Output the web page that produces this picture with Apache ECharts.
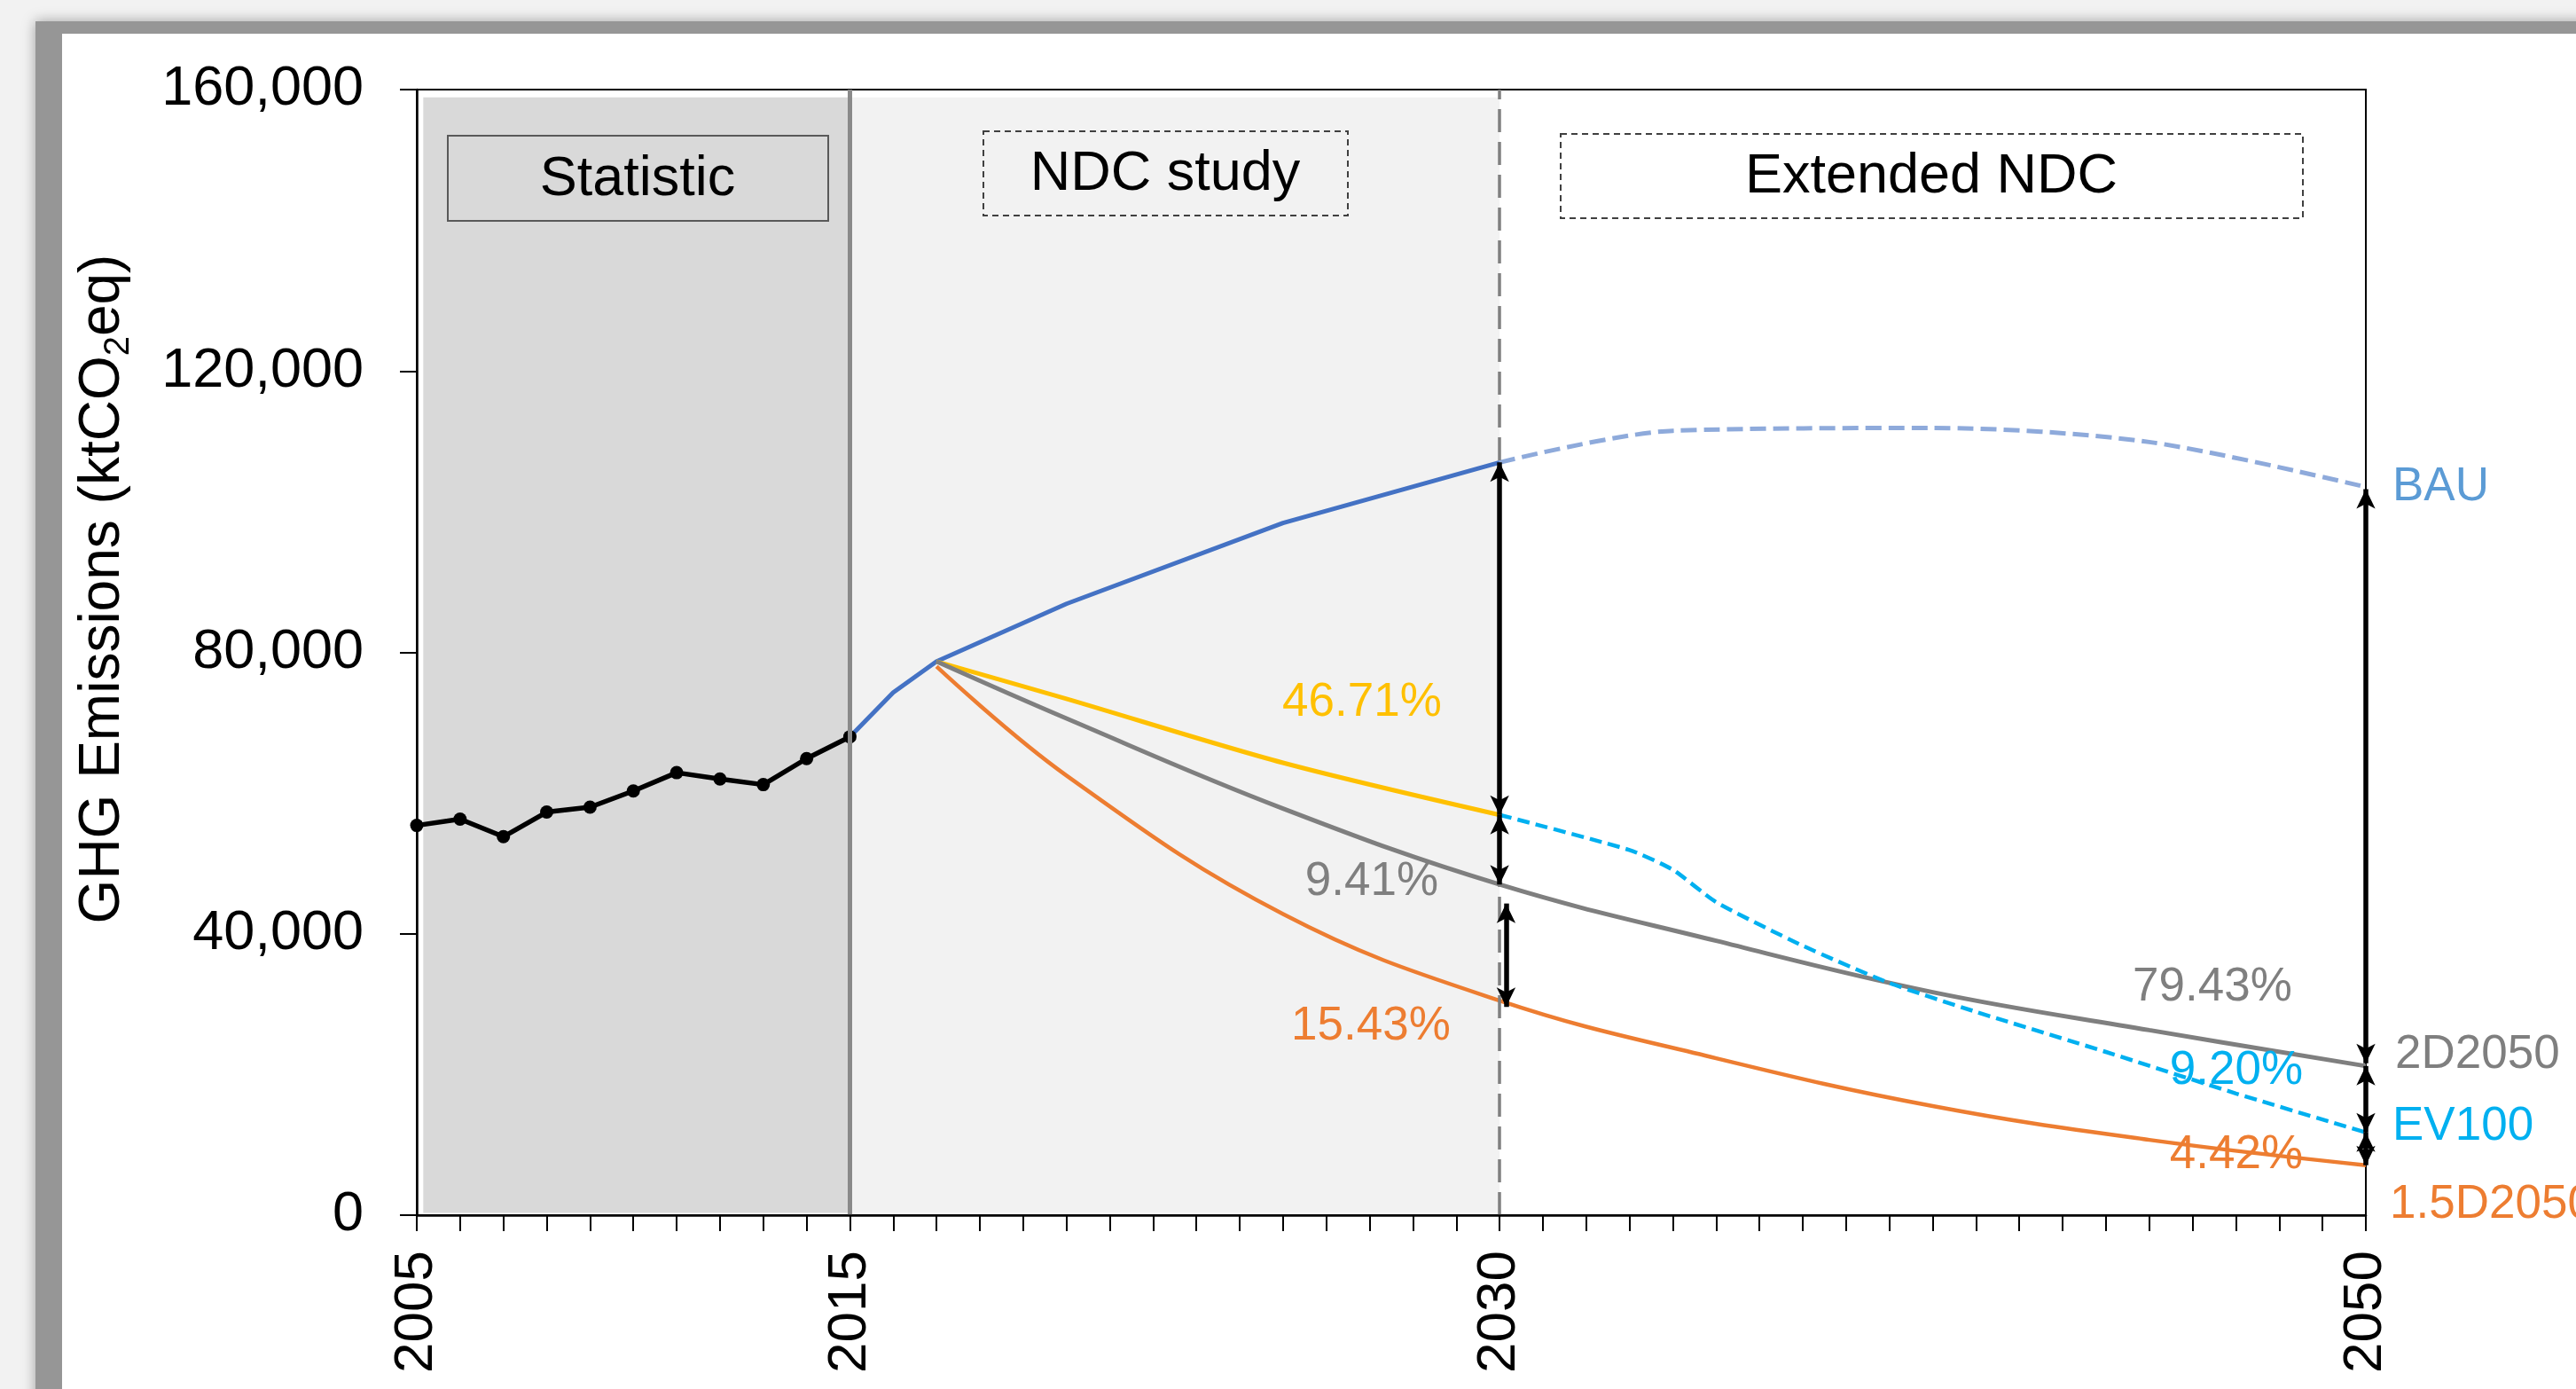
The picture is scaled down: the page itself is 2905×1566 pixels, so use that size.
<!DOCTYPE html>
<html>
<head>
<meta charset="utf-8">
<title>GHG Emissions scenarios</title>
<script src="https://cdn.jsdelivr.net/npm/echarts@6.0.0/dist/echarts.min.js"></script>
<style>
    html, body { margin: 0; padding: 0; background: #f2f2f2; }
    #main { width: 2905px; height: 1566px; }
</style>
</head>
<body>
<div id="main"></div>
<script>
    // statistic (historical) emissions, ktCO2eq
    var histYears = [2005, 2006, 2007, 2008, 2009, 2010, 2011, 2012, 2013, 2014, 2015];
    var histValues = [55400, 56300, 53800, 57300, 58000, 60300, 62900, 62000, 61200, 64900, 68000];

    // BAU: solid until 2030, dashed afterwards
    var bauYears = [2015, 2016, 2017, 2020, 2025, 2030];
    var bauValues = [68000, 74300, 78700, 86900, 98400, 107000];
    var bauExtYears = [2030, 2034, 2040, 2045, 2050];
    var bauExtValues = [107000, 111500, 111900, 109900, 103500];

    // NDC study scenario (yellow)
    var ndcYears = [2017, 2020, 2025, 2030];
    var ndcValues = [78700, 73400, 64300, 56900];

    // 2D2050 (grey)
    var d2Years = [2017, 2020, 2025, 2030, 2035, 2040, 2045, 2050];
    var d2Values = [78700, 70600, 57800, 47000, 39000, 31700, 26300, 21200];

    // 1.5D2050 (orange)
    var d15Years = [2017, 2020, 2025, 2030, 2035, 2040, 2045, 2050];
    var d15Values = [78000, 62500, 42800, 30500, 22300, 15500, 10700, 7100];

    // EV100 (cyan dashed)
    var evYears = [2030, 2033, 2034, 2035, 2037, 2039, 2041, 2044, 2047, 2050];
    var evValues = [56900, 51900, 49100, 44500, 38300, 33000, 28900, 23200, 17300, 11750];

    // gap arrows: [year, from, to]
    var gapArrows = [
        [2030, 107000, 56900],
        [2030, 56900, 47000],
        [2030.15, 44300, 29600],
        [2050, 103200, 21600],
        [2050, 21200, 11750],
        [2050, 11750, 7100]
    ];

    var yearLabels = [2005, 2015, 2030, 2050];

    var FONT = 'Liberation Sans, Arial, sans-serif';

    function pairs(xs, ys) {
        return xs.map(function (x, i) { return [x, ys[i]]; });
    }

    function label(text, x, y, color, align) {
        return {
            type: 'text', z: 20, x: x, y: y, silent: true,
            style: {
                text: text, fill: color, fontSize: 53, fontFamily: FONT,
                align: align || 'center', verticalAlign: 'middle'
            }
        };
    }

    function box(x, y, w, h, dashed, fill) {
        return {
            type: 'rect', z: 10, silent: true,
            shape: { x: x, y: y, width: w, height: h },
            style: {
                fill: fill || 'rgba(0,0,0,0)',
                stroke: dashed ? '#404040' : '#595959',
                lineWidth: 2,
                lineDash: dashed ? [7, 5] : null
            }
        };
    }

    function boxText(text, x, y) {
        return {
            type: 'text', z: 11, x: x, y: y, silent: true,
            style: { text: text, fill: '#000', fontSize: 63, fontFamily: FONT, align: 'center', verticalAlign: 'middle' }
        };
    }

    var chart = echarts.init(document.getElementById('main'));

    var option = {
        animation: false,
        backgroundColor: '#f2f2f2',
        grid: {
            left: 470, right: 237, top: 101, bottom: 196,
            show: true, borderColor: '#000', borderWidth: 2, backgroundColor: 'transparent'
        },
        xAxis: {
            type: 'value', min: 2005, max: 2050, interval: 1, z: 8,
            splitLine: { show: false },
            axisLine: { lineStyle: { color: '#000', width: 2.5 } },
            axisTick: { show: true, length: 18, lineStyle: { color: '#000', width: 2 } },
            axisLabel: {
                rotate: 90, margin: 40, color: '#000', fontSize: 62, fontFamily: FONT,
                showMinLabel: true, showMaxLabel: true,
                formatter: function (v) { return yearLabels.indexOf(v) >= 0 ? String(v) : ''; }
            }
        },
        yAxis: {
            type: 'value', min: 0, max: 160000, interval: 40000, z: 8,
            splitLine: { show: false },
            axisLine: { show: true, lineStyle: { color: '#000', width: 2.5 } },
            axisTick: { show: true, length: 19, lineStyle: { color: '#000', width: 2 } },
            axisLabel: {
                margin: 60, color: '#000', fontSize: 63, fontFamily: FONT,
                formatter: function (v) { return v.toLocaleString('en-US'); }
            }
        },
        series: [
            {
                name: 'periods', type: 'line', data: [], z: 1, silent: true,
                markArea: {
                    silent: true,
                    data: [
                        [{ coord: [2005.15, 158900], itemStyle: { color: '#d9d9d9' } }, { coord: [2015, 300] }],
                        [{ coord: [2015, 158900], itemStyle: { color: '#f2f2f2' } }, { coord: [2030, 300] }]
                    ]
                },
                markLine: {
                    silent: true, symbol: 'none', label: { show: false },
                    data: [
                        { xAxis: 2015, lineStyle: { color: '#8a8a8a', width: 5, type: 'solid' } },
                        { xAxis: 2030, lineStyle: { color: '#808080', width: 3.5, type: [26, 11] } }
                    ]
                }
            },
            {
                name: 'Statistic', type: 'line', z: 4, data: pairs(histYears, histValues),
                symbol: 'circle', symbolSize: 15,
                itemStyle: { color: '#000' },
                lineStyle: { color: '#000', width: 5.5 },
                emphasis: { disabled: true }
            },
            {
                name: 'BAU', type: 'line', z: 3, data: pairs(bauYears, bauValues), showSymbol: false,
                lineStyle: { color: '#4472c4', width: 5 }, emphasis: { disabled: true }
            },
            {
                name: 'BAU ext', type: 'line', z: 3, data: pairs(bauExtYears, bauExtValues), showSymbol: false,
                smooth: 0.3,
                lineStyle: { color: '#8eaadb', width: 5, type: [18, 8] }, emphasis: { disabled: true }
            },
            {
                name: 'NDC', type: 'line', z: 3, data: pairs(ndcYears, ndcValues), showSymbol: false,
                smooth: 0.3,
                lineStyle: { color: '#ffc000', width: 5 }, emphasis: { disabled: true }
            },
            {
                name: '2D2050', type: 'line', z: 3, data: pairs(d2Years, d2Values), showSymbol: false,
                smooth: 0.4,
                lineStyle: { color: '#7f7f7f', width: 5 }, emphasis: { disabled: true }
            },
            {
                name: '1.5D2050', type: 'line', z: 3, data: pairs(d15Years, d15Values), showSymbol: false,
                smooth: 0.4,
                lineStyle: { color: '#ed7d31', width: 4.5 }, emphasis: { disabled: true }
            },
            {
                name: 'EV100', type: 'line', z: 3, data: pairs(evYears, evValues), showSymbol: false,
                smooth: 0.2,
                lineStyle: { color: '#00b0f0', width: 4.5, type: [14, 7] }, emphasis: { disabled: true }
            },
            {
                name: 'gaps', type: 'line', data: [], z: 6, silent: true,
                markLine: {
                    silent: true,
                    symbol: ['arrow', 'arrow'],
                    symbolSize: [16, 22],
                    label: { show: false },
                    lineStyle: { color: '#000', width: 5.5, type: 'solid' },
                    data: gapArrows.map(function (a) {
                        return [{ coord: [a[0], a[1]] }, { coord: [a[0], a[2]] }];
                    })
                }
            }
        ],
        graphic: {
            elements: [
                // figure frame
                {
                    type: 'rect', z: -2, silent: true,
                    shape: { x: 40, y: 24, width: 2900, height: 1580 },
                    style: { fill: '#969696', shadowBlur: 14, shadowColor: 'rgba(0,0,0,0.35)' }
                },
                {
                    type: 'rect', z: -1, silent: true,
                    shape: { x: 70, y: 38, width: 2860, height: 1560 },
                    style: { fill: '#fff' }
                },
                // period boxes
                box(505, 153, 429, 96, false, '#d9d9d9'),
                boxText('Statistic', 719, 203),
                box(1109, 148, 411, 95, true),
                boxText('NDC study', 1314, 197),
                box(1760, 151, 837, 95, true),
                boxText('Extended NDC', 2178, 200),
                // y axis name with subscript
                {
                    type: 'text', z: 20, x: 116, y: 664, rotation: Math.PI / 2, silent: true,
                    style: {
                        text: '{a|GHG Emissions (ktCO}{s|2}{a|eq)}',
                        align: 'center', verticalAlign: 'middle',
                        rich: {
                            a: { fontSize: 64, fontFamily: FONT, fill: '#000', color: '#000' },
                            s: { fontSize: 40, fontFamily: FONT, fill: '#000', color: '#000', padding: [36, 0, 0, 0], verticalAlign: 'bottom' }
                        }
                    }
                },
                // reduction shares
                label('46.71%', 1536, 792, '#ffc000'),
                label('9.41%', 1547, 994, '#7f7f7f'),
                label('15.43%', 1546, 1157, '#ed7d31'),
                label('79.43%', 2495, 1113, '#7f7f7f'),
                label('9.20%', 2522, 1207, '#00b0f0'),
                label('4.42%', 2522, 1302, '#ed7d31'),
                // scenario names
                label('BAU', 2698, 549, '#5b9bd5', 'left'),
                label('2D2050', 2701, 1189, '#7f7f7f', 'left'),
                label('EV100', 2698, 1270, '#00b0f0', 'left'),
                label('1.5D2050', 2695, 1358, '#ed7d31', 'left')
            ]
        }
    };

    option && chart.setOption(option);
</script>
</body>
</html>
